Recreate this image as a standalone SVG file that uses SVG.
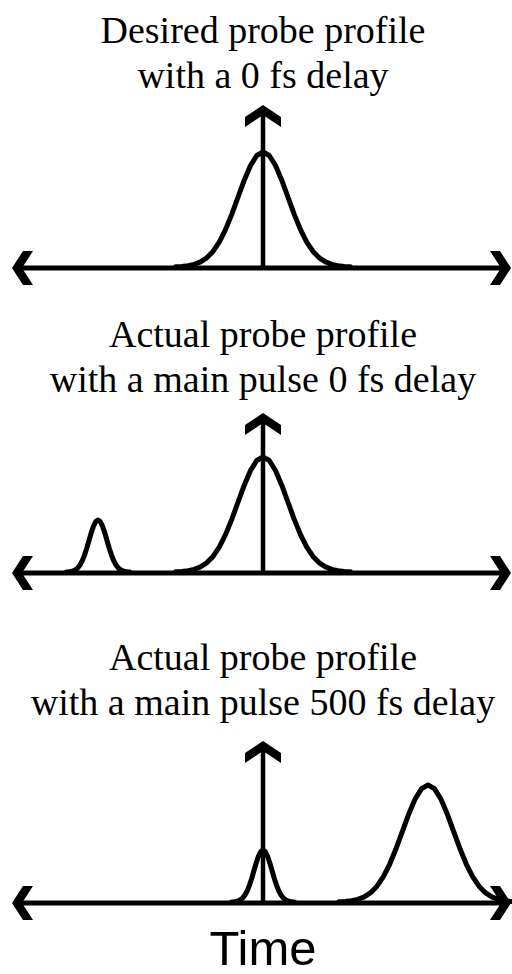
<svg xmlns="http://www.w3.org/2000/svg" xmlns:xlink="http://www.w3.org/1999/xlink" width="512" height="974" viewBox="0 0 512 974">
<style>
.title{font-family:"Liberation Serif","Times New Roman",serif;font-size:38px;fill:#000;text-anchor:middle}
.axis{stroke:#000;stroke-width:5;fill:none}
.vline{stroke:#000;stroke-width:4.5;fill:none}
.head{fill:#000;stroke:none}
.g{fill:none;stroke:#000;stroke-width:5;stroke-linejoin:round;stroke-linecap:round;vector-effect:non-scaling-stroke}
.label{font-family:"Liberation Sans",Arial,sans-serif;font-size:49px;fill:#000;text-anchor:middle}
</style>
<defs>
<path id="gauss" class="g" d="M-3.5,-0.0022 L-3.25,-0.0051 L-3,-0.0111 L-2.75,-0.0228 L-2.5,-0.0439 L-2.25,-0.0796 L-2,-0.1353 L-1.75,-0.2163 L-1.5,-0.3247 L-1.25,-0.4578 L-1,-0.6065 L-0.75,-0.7548 L-0.5,-0.8825 L-0.25,-0.9692 L0,-1 L0.25,-0.9692 L0.5,-0.8825 L0.75,-0.7548 L1,-0.6065 L1.25,-0.4578 L1.5,-0.3247 L1.75,-0.2163 L2,-0.1353 L2.25,-0.0796 L2.5,-0.0439 L2.75,-0.0228 L3,-0.0111 L3.25,-0.0051 L3.5,-0.0022"/>
<path id="lhead" class="head" d="M12,0 L23,-17 L33,-17 L22,0 L33,17 L23,17 Z"/>
<path id="rhead" class="head" d="M511,0 L500,-17 L490,-17 L501,0 L490,17 L500,17 Z"/>
<path id="uhead" class="head" d="M0,0 L18,12 L18,22 L0,10 L-18,22 L-18,12 Z"/>
</defs>

<g id="panel1">
  <text class="title" x="263" y="43">Desired probe profile</text>
  <text class="title" x="263" y="88">with a 0 fs delay</text>
  <g id="axes1">
    <line class="axis" x1="18" y1="268" x2="506" y2="268"/>
    <use xlink:href="#lhead" transform="translate(0,268)"/>
    <use xlink:href="#rhead" transform="translate(0,268)"/>
    <line class="vline" x1="263" y1="268" x2="263" y2="112"/>
    <use xlink:href="#uhead" transform="translate(263,105)"/>
  </g>
  <use id="pulse1" xlink:href="#gauss" transform="translate(263,267) scale(25,115)"/>
</g>

<g id="panel2">
  <text class="title" x="263" y="347">Actual probe profile</text>
  <text class="title" x="263" y="392">with a main pulse 0 fs delay</text>
  <g id="axes2">
    <line class="axis" x1="18" y1="573" x2="506" y2="573"/>
    <use xlink:href="#lhead" transform="translate(0,573)"/>
    <use xlink:href="#rhead" transform="translate(0,573)"/>
    <line class="vline" x1="263" y1="573" x2="263" y2="420"/>
    <use xlink:href="#uhead" transform="translate(263,413)"/>
  </g>
  <use id="pulse2a" xlink:href="#gauss" transform="translate(98,572) scale(9,52)"/>
  <use id="pulse2b" xlink:href="#gauss" transform="translate(263,572) scale(25,115)"/>
</g>

<g id="panel3">
  <text class="title" x="263" y="670">Actual probe profile</text>
  <text class="title" x="263" y="715">with a main pulse 500 fs delay</text>
  <g id="axes3">
    <line class="axis" x1="18" y1="903" x2="506" y2="903"/>
    <use xlink:href="#lhead" transform="translate(0,903)"/>
    <use xlink:href="#rhead" transform="translate(0,903)"/>
    <line class="vline" x1="263" y1="903" x2="263" y2="748"/>
    <use xlink:href="#uhead" transform="translate(263,741)"/>
  </g>
  <use id="pulse3a" xlink:href="#gauss" transform="translate(263,902) scale(9,52)"/>
  <use id="pulse3b" xlink:href="#gauss" transform="translate(428,902) scale(25.5,117)"/>
  <text class="label" x="263" y="965">Time</text>
</g>
</svg>
